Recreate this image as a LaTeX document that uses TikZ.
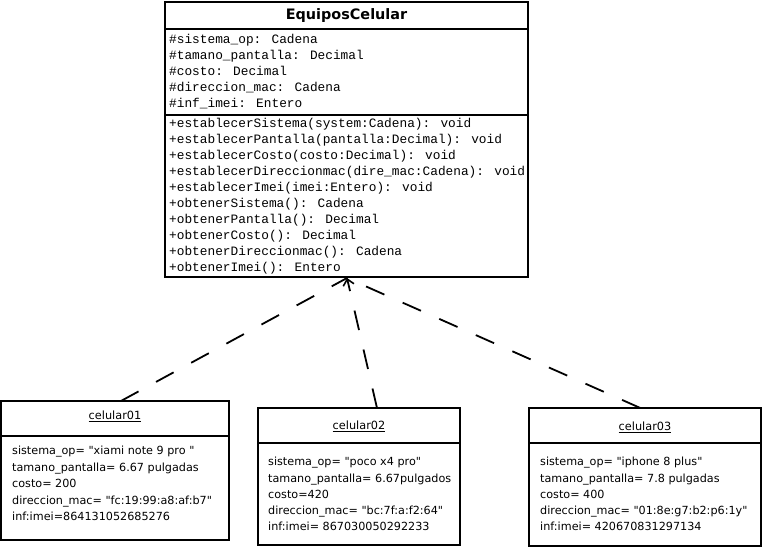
\documentclass[tikz,border=0pt]{standalone}
\usepackage{fontspec}
\setmainfont{DejaVu Sans}[Ligatures=TeXOff]
\newfontfamily\codefont{Liberation Mono}[Ligatures=TeXOff]
\usetikzlibrary{calc,arrows.meta}

\begin{document}
\begin{tikzpicture}[x=1pt,y=-1pt,
  umlbox/.style={draw=black,line width=1.6pt,fill=white,rectangle,inner sep=0pt,outer sep=0pt,anchor=north west},
  sepline/.style={line width=1.6pt},
  member/.style={anchor=mid west,inner sep=0pt,font=\codefont\fontsize{12.8}{14}\selectfont},
  slot/.style={anchor=mid west,inner sep=0pt,font=\fontsize{11.2}{13}\selectfont},
  objname/.style={inner sep=0pt,font=\fontsize{11.3}{13}\selectfont},
  classname/.style={inner sep=0pt,font=\bfseries\fontsize{14.4}{16}\selectfont},
  realize/.style={line width=1.8pt,dash pattern=on 20pt off 20pt}
]
\useasboundingbox (0,0) rectangle (762,550);
\fill[white] (0,0) rectangle (762,550);

% ---------- class EquiposCelular ----------
\node[umlbox,minimum width=363pt,minimum height=275pt] (cls) at (165,2) {};
\draw[sepline] (165,29) -- (528,29);
\draw[sepline] (165,115) -- (528,115);
\node[classname] (clsname) at (346.5,15.5) {EquiposCelular};

\foreach \t [count=\i] in {
  \#sistema\_op: Cadena,
  \#tamano\_pantalla: Decimal,
  \#costo: Decimal,
  \#direccion\_mac: Cadena,
  \#inf\_imei: Entero}
  \node[member] (attr\i) at (169,{24.7+16*\i}) {\t};

\foreach \t [count=\i] in {
  +establecerSistema(system:Cadena): void,
  +establecerPantalla(pantalla:Decimal): void,
  +establecerCosto(costo:Decimal): void,
  +establecerDireccionmac(dire\_mac:Cadena): void,
  +establecerImei(imei:Entero): void,
  +obtenerSistema(): Cadena,
  +obtenerPantalla(): Decimal,
  +obtenerCosto(): Decimal,
  +obtenerDireccionmac(): Cadena,
  +obtenerImei(): Entero}
  \node[member] (meth\i) at (169,{109+16*\i}) {\t};

% ---------- object celular01 ----------
\node[umlbox,minimum width=228pt,minimum height=139pt] (o1) at (1,401) {};
\draw[sepline] (1,436) -- (229,436);
\node[objname] (o1name) at (115,416) {\underline{celular01}};
\foreach \t [count=\i] in {
  sistema\_op= "xiami note 9 pro ",
  tamano\_pantalla= 6.67 pulgadas,
  costo= 200,
  direccion\_mac= "fc:19:99:a8:af:b7",
  inf:imei=864131052685276}
  \node[slot] (o1s\i) at (12,{435.7+16.5*\i}) {\t};

% ---------- object celular02 ----------
\node[umlbox,minimum width=202pt,minimum height=137pt] (o2) at (258,408) {};
\draw[sepline] (258,443) -- (460,443);
\node[objname] (o2name) at (359,426) {\underline{celular02}};
\foreach \t [count=\i] in {
  sistema\_op= "poco x4 pro",
  tamano\_pantalla= 6.67pulgados,
  costo=420,
  direccion\_mac= "bc:7f:a:f2:64",
  inf:imei= 867030050292233}
  \node[slot] (o2s\i) at (268,{447+16.2*\i}) {\t};

% ---------- object celular03 ----------
\node[umlbox,minimum width=232pt,minimum height=138pt] (o3) at (529,408) {};
\draw[sepline] (529,443) -- (761,443);
\node[objname] (o3name) at (645,427) {\underline{celular03}};
\foreach \t [count=\i] in {
  sistema\_op= "iphone 8 plus",
  tamano\_pantalla= 7.8 pulgadas,
  costo= 400,
  direccion\_mac= "01:8e:g7:b2:p6:1y",
  inf:imei= 420670831297134}
  \node[slot] (o3s\i) at (540,{447+16.2*\i}) {\t};

% ---------- instance-of dependencies ----------
\coordinate (apex) at ($(cls.south)+(0.5,1)$);
\coordinate (e1) at ($(o1.north west)!0.526!(o1.north east)$);
\coordinate (e2) at ($(o2.north west)!0.589!(o2.north east)$);
\coordinate (e3) at ($(o3.north west)!0.48!(o3.north east)$);
\draw[realize] (e1) -- (apex);
\draw[realize] (e3) -- (apex);
\draw[realize,-{Straight Barb[length=6pt,width=11pt,line width=1.6pt]}] (e2) -- (apex);
\end{tikzpicture}
\end{document}
